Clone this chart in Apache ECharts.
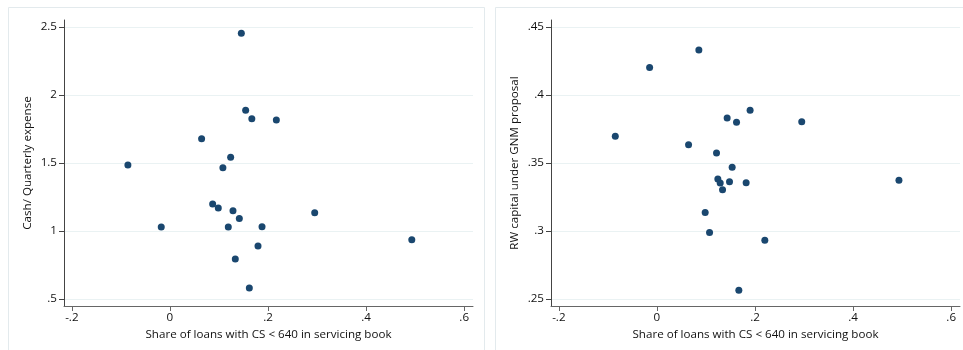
<!DOCTYPE html>
<html><head><meta charset="utf-8">
<script src="https://cdn.jsdelivr.net/npm/echarts@6/dist/echarts.min.js"></script>
<style>html,body{margin:0;padding:0;background:#fff}#c{width:963px;height:350px}</style>
</head><body><div id="c"></div>
<script>
// Left panel: share of loans with CS<640 vs cash / quarterly expense
const leftX = [0.1456, 0.1544, 0.167, 0.217, 0.0646, 0.1238, 0.108, -0.0857, 0.0871, 0.0986, 0.1286, 0.1415, 0.119, 0.1878, -0.0177, 0.2952, 0.4932, 0.1796, 0.1333, 0.1619];
const leftY = [2.454, 1.887, 1.826, 1.816, 1.679, 1.542, 1.465, 1.485, 1.199, 1.169, 1.149, 1.093, 1.029, 1.032, 1.029, 1.135, 0.936, 0.890, 0.794, 0.581];
// Right panel: share of loans vs RW capital under GNM proposal
const rightX = [0.0855, -0.0149, -0.0849, 0.0645, 0.1215, 0.1432, 0.1623, 0.190, 0.2953, 0.1534, 0.1242, 0.129, 0.148, 0.1819, 0.1338, 0.4935, 0.0984, 0.1073, 0.22, 0.167];
const rightY = [0.4331, 0.4201, 0.3696, 0.3635, 0.3574, 0.3831, 0.3799, 0.3887, 0.3804, 0.3468, 0.3382, 0.3353, 0.3363, 0.3355, 0.3304, 0.3373, 0.3137, 0.299, 0.2932, 0.2564];
const xTicks = [-0.2, 0, 0.2, 0.4, 0.6];
const leftYTicks = [0.5, 1, 1.5, 2, 2.5];
const rightYTicks = [0.25, 0.3, 0.35, 0.4, 0.45];
const xTitle = 'Share of loans with CS < 640 in servicing book';
const leftYTitle = 'Cash/ Quarterly expense';
const rightYTitle = 'RW capital under GNM proposal';

const FONT = 'Open Sans';
const FS = 11.6;
function fmt(v){
  let s = String(Math.round(v*1000)/1000);
  return s.replace(/^0\./,'.').replace(/^-0\./,'-.');
}
const chart = echarts.init(document.getElementById('c'), null, {renderer:'canvas'});
function xAxis(gi){
  return {type:'value', gridIndex:gi, min:-0.216, max:0.618,
    name:xTitle, nameLocation:'middle', nameGap:21,
    nameTextStyle:{fontFamily:FONT, fontSize:FS, color:'#111'},
    axisLine:{show:true, onZero:false, lineStyle:{color:'#666', width:1}},
    axisTick:{show:true, length:5, customValues:xTicks, lineStyle:{color:'#666'}},
    axisLabel:{customValues:xTicks, formatter:fmt, margin:6, fontFamily:FONT, fontSize:FS, color:'#111'},
    splitLine:{show:false}};
}
function yAxis(gi, mn, mx, ticks, title, gap){
  return {type:'value', gridIndex:gi, min:mn, max:mx,
    name:title, nameLocation:'middle', nameGap:gap, nameRotate:90,
    nameTextStyle:{fontFamily:FONT, fontSize:FS, color:'#111'},
    axisLine:{show:true, onZero:false, lineStyle:{color:'#444', width:1}},
    axisTick:{show:true, length:5, customValues:ticks, lineStyle:{color:'#444'}},
    axisLabel:{customValues:ticks, formatter:fmt, margin:7, fontFamily:FONT, fontSize:FS, color:'#111'},
    splitLine:{show:true, lineStyle:{color:'#eaf2f3', width:1}}};
}
chart.setOption({
  animation:false,
  backgroundColor:'#fff',
  graphic:[
    {type:'rect', shape:{x:8.5, y:7.5, width:476, height:350}, style:{fill:'#fff', stroke:'#e3eaed', lineWidth:1}, z:-10},
    {type:'rect', shape:{x:495.5, y:7.5, width:475, height:350}, style:{fill:'#fff', stroke:'#e3eaed', lineWidth:1}, z:-10}
  ],
  grid:[
    {left:64, top:20, width:409, height:286},
    {left:551, top:20, width:409, height:286}
  ],
  xAxis:[xAxis(0), xAxis(1)],
  yAxis:[yAxis(0, 0.449, 2.551, leftYTicks, leftYTitle, 30), yAxis(1, 0.2449, 0.4551, rightYTicks, rightYTitle, 30)],
  series:[
    {type:'scatter', xAxisIndex:0, yAxisIndex:0, symbolSize:7, itemStyle:{color:'#1a476f', opacity:1},
     data:leftX.map((x,i)=>[x,leftY[i]])},
    {type:'scatter', xAxisIndex:1, yAxisIndex:1, symbolSize:7, itemStyle:{color:'#1a476f', opacity:1},
     data:rightX.map((x,i)=>[x,rightY[i]])}
  ]
});
</script></body></html>
